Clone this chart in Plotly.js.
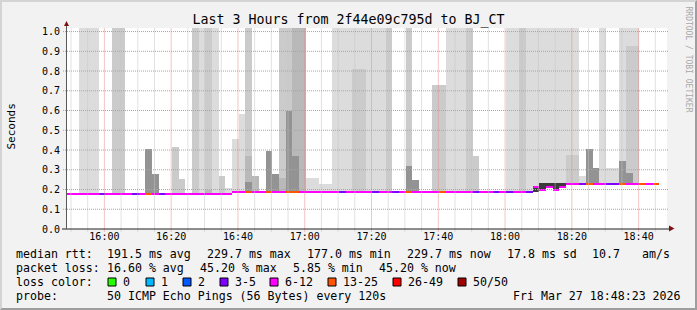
<!DOCTYPE html>
<html><head><meta charset="utf-8">
<script src="https://cdn.plot.ly/plotly-3.0.1.min.js"></script>
<style>
html,body{margin:0;padding:0;background:#f2f2f2;}
#wrap{position:relative;width:697px;height:310px;overflow:hidden;}
#chart{width:697px;height:310px;}
#frame{position:absolute;left:0;top:0;width:697px;height:310px;box-sizing:border-box;border-top:2px solid #d4d4d4;border-left:2px solid #d4d4d4;border-right:2px solid #9e9e9e;border-bottom:2px solid #9e9e9e;pointer-events:none;}
</style></head><body>
<div id="wrap"><div id="chart"></div><div id="frame"></div></div>
<script>
// ---- data (one entry per 2-minute step, first step starts 15:48:15) ----
const FIRST_STEP = '2026-03-27 15:48:15';
const STEP_MIN = 2;
const F = 1.1; // off-scale (above chart top)

const medianRtt = [
 0.177,0.177,0.177,0.177,0.177,0.177,0.177,0.177,0.177,0.177,
 0.177,0.177,0.177,0.177,0.177,0.177,0.177,0.177,0.177,0.177,
 0.177,0.177,0.177,0.177,0.177,0.187,0.187,0.187,0.187,0.187,
 0.187,0.187,0.187,0.187,0.187,0.187,0.187,0.187,0.187,0.187,
 0.187,0.187,0.187,0.187,0.187,0.187,0.187,0.187,0.187,0.187,
 0.187,0.187,0.187,0.187,0.187,0.187,0.187,0.187,0.187,0.187,
 0.187,0.187,0.187,0.187,0.187,0.187,0.187,0.187,0.187,0.187,
 0.215,0.200,0.215,0.200,0.215,0.230,0.230,0.230,0.230,0.230,
 0.230,0.230,0.230,0.230,0.230,0.230,0.230,0.230,0.230
];
const lossPct = [
 16,18,14,20,16,8,18,22,16,14,
 8,16,30,18,10,14,20,16,18,22,
 16,20,18,14,16,18,22,34,16,20,
 28,18,14,38,30,16,18,20,22,16,
 14,8,18,16,20,22,8,18,14,6,
 20,32,16,18,14,16,28,18,16,20,
 22,8,16,18,10,14,8,16,20,10,
 18,22,16,20,18,14,16,8,30,18,
 16,10,8,36,18,16,32,20,45.2
];
// smoke layers: top of each band (seconds)
const smokeOuter = [
 null,null,F,F,F,null,0.183,null,null,0.183,
 null,null,null,null,null,null,null,null,0.183,null,
 F,null,F,null,0.206,0.454,0.581,null,null,0.195,
 null,null,null,null,null,null,0.258,0.258,0.226,0.226,
 F,F,F,F,F,F,F,F,null,0.19,
 0.19,null,null,null,null,null,null,F,F,F,
 null,null,null,null,null,null,F,F,null,F,
 F,F,F,F,F,F,F,0.267,null,null,
 F,0.307,0.307,F,F,F,null,null,null
];
const smokeMid = [
 null,null,null,null,null,null,null,F,F,null,
 null,null,null,null,null,null,0.414,0.252,null,F,
 null,F,null,0.267,null,null,null,F,null,null,
 null,null,F,F,null,null,null,null,null,null,
 null,null,null,0.81,0.81,null,null,null,F,null,
 null,F,null,null,null,0.728,0.728,null,null,null,
 F,0.368,null,null,null,null,null,null,F,null,
 null,null,null,null,null,0.375,0.375,null,null,null,
 null,null,null,null,0.925,0.925,null,null,null
];
const smokeInner = [
 null,null,null,null,null,null,null,null,null,null,
 null,null,null,null,null,null,null,null,null,null,
 null,0.2,null,null,null,null,null,0.372,0.267,null,
 null,null,0.26,null,F,F,null,null,null,null,
 null,null,null,null,null,null,null,null,null,null,
 null,null,null,null,null,null,null,null,null,null,
 null,null,null,null,null,null,null,null,null,null,
 null,null,null,null,null,null,null,null,null,null,
 null,null,null,null,null,null,null,null,null
];
const smokeCore = [
 null,null,null,null,null,null,null,null,null,null,
 null,null,0.404,0.277,null,null,null,null,null,null,
 null,null,null,null,null,null,null,0.24,null,null,
 0.394,0.277,null,0.596,0.368,null,null,null,null,null,
 null,null,null,null,null,null,null,null,null,null,
 null,0.321,0.247,null,null,null,null,null,null,null,
 null,null,null,null,null,null,null,null,null,null,
 null,null,null,null,null,null,null,null,0.404,0.307,
 null,null,null,0.343,0.282,null,null,null,null
];
const denseLo = [
 null,null,null,null,null,null,null,null,null,null,
 null,null,null,null,null,null,null,null,null,null,
 null,null,null,null,null,null,null,null,null,null,
 null,null,null,null,null,null,null,null,null,null,
 null,null,null,null,null,null,null,null,null,null,
 null,null,null,null,null,null,null,null,null,null,
 null,null,null,null,null,null,null,null,null,null,
 0.187,0.205,0.215,0.205,0.215,null,null,null,null,null,
 null,null,null,null,null,null,null,null,null
];
const denseHi = [
 null,null,null,null,null,null,null,null,null,null,
 null,null,null,null,null,null,null,null,null,null,
 null,null,null,null,null,null,null,null,null,null,
 null,null,null,null,null,null,null,null,null,null,
 null,null,null,null,null,null,null,null,null,null,
 null,null,null,null,null,null,null,null,null,null,
 null,null,null,null,null,null,null,null,null,null,
 0.215,0.233,0.233,0.233,0.233,null,null,null,null,null,
 null,null,null,null,null,null,null,null,null
];
const lossLabels = ['0','1','2','3-5','6-12','13-25','26-49','50/50'];
const lossColors = ['#26ff00','#00b8ff','#0059ff','#7e00ff','#ff00ff','#ff5500','#ff0000','#a10000'];
const lossMaxCount = [0.5,1.5,2.5,5.5,12.5,25.5,49.5,999];
const PINGS = 50;
const xTickStart = '2026-03-27 16:00:00';
const xRange = ['2026-03-27 15:48:30','2026-03-27 18:48:30'];

// ---- helpers ----
function fmt(ms){const d=new Date(ms);const p=n=>String(n).padStart(2,'0');
 return d.getUTCFullYear()+'-'+p(d.getUTCMonth()+1)+'-'+p(d.getUTCDate())+' '+p(d.getUTCHours())+':'+p(d.getUTCMinutes())+':'+p(d.getUTCSeconds());}
function parse(s){const m=s.match(/(\d+)-(\d+)-(\d+) (\d+):(\d+):(\d+)/);return Date.UTC(+m[1],+m[2]-1,+m[3],+m[4],+m[5],+m[6]);}
const stepMs = STEP_MIN*60000;
const t0 = parse(FIRST_STEP);
const times = medianRtt.map((_,i)=>fmt(t0 + i*stepMs + stepMs/2));

function layer(tops, bases, color){
  return {type:'bar', x:times, base:bases, y:tops.map((v,i)=>v==null?null:v-bases[i]),
    width:stepMs, marker:{color:color, line:{width:0}}, hoverinfo:'skip', showlegend:false};
}
function lossColor(p){const c=p*PINGS/100;for(let k=0;k<lossMaxCount.length;k++){if(c<lossMaxCount[k])return lossColors[k];}return lossColors[7];}

const traces = [
  layer(smokeOuter, medianRtt, '#dcdcdc'),
  layer(smokeMid, medianRtt, '#cbcbcb'),
  layer(smokeInner, medianRtt, '#b9b9b9'),
  layer(smokeCore, medianRtt, '#939393'),
  layer(denseHi, denseLo.map((v,i)=>v==null?medianRtt[i]:v), '#3a3a3a'),
  {type:'bar', x:times, base:medianRtt.map(v=>v-0.005), y:medianRtt.map(()=>0.010), width:stepMs,
   marker:{color:lossPct.map(lossColor), line:{width:0}}, hoverinfo:'skip', showlegend:false}
];

// ---- layout geometry ----
const W=697,H=310,L=66,R=30,T=28,B=81;
const PW=W-L-R, PH=H-T-B;
const px = x => (x-L)/PW;
const py = y => (T+PH-y)/PH;
const FONT='DejaVu Sans Mono';
const MAJ='#e88a8a', MIN='#c4c4c4';

const shapes=[];
// grid drawn above smoke (as rrdtool does)
for(let m=parse('2026-03-27 15:50:00'); m<=parse('2026-03-27 18:45:00'); m+=300000){
  const major = ((m-parse(xTickStart))/60000)%20===0;
  shapes.push({type:'line',layer:'above',xref:'x',yref:'paper',x0:fmt(m),x1:fmt(m),y0:py(231.5),y1:1,
    line:{color:major?MAJ:MIN,width:1,dash:'1px,1px'}});
}
for(let k=1;k<=10;k++){
  const v=k/10;
  shapes.push({type:'line',layer:'above',xref:'paper',yref:'y',x0:px(63),x1:px(668),y0:v,y1:v,
    line:{color:MAJ,width:1,dash:'1px,1px'}});
}
// axes + arrows
shapes.push({type:'line',layer:'above',xref:'paper',yref:'paper',x0:px(62),x1:px(669),y0:0,y1:0,line:{color:'#202020',width:1}});
shapes.push({type:'line',layer:'above',xref:'paper',yref:'paper',x0:px(66.5),x1:px(66.5),y0:0,y1:py(26),line:{color:'#5a5a5a',width:1}});
shapes.push({type:'path',layer:'above',xref:'paper',yref:'paper',
  path:`M ${px(669)} ${py(225.5)} L ${px(674.5)} ${py(228.5)} L ${px(669)} ${py(231.5)} Z`,fillcolor:'#801010',line:{width:0}});
shapes.push({type:'path',layer:'above',xref:'paper',yref:'paper',
  path:`M ${px(64)} ${py(26)} L ${px(66.5)} ${py(21)} L ${px(69)} ${py(26)} Z`,fillcolor:'#801010',line:{width:0}});

const ann=[];
function txt(s,x,y,opt){ann.push(Object.assign({text:s,xref:'paper',yref:'paper',x:px(x),y:py(y),xanchor:'left',yanchor:'middle',
  showarrow:false,borderpad:0,borderwidth:0,font:{family:FONT,size:11.6,color:'#000'}},opt||{}));}

// legend lines
const yL=[254,268,282,296];
txt('median rtt:',16,yL[0]);
txt('191.5 ms avg',107,yL[0]); txt('229.7 ms max',207,yL[0]); txt('177.0 ms min',307,yL[0]);
txt('229.7 ms now',407,yL[0]); txt('17.8 ms sd',507,yL[0]); txt('10.7',592,yL[0]); txt('am/s',642,yL[0]);
txt('packet loss:',16,yL[1]);
txt('16.60 % avg',107,yL[1]); txt('45.20 % max',200,yL[1]); txt('5.85 % min',293,yL[1]); txt('45.20 % now',379,yL[1]);
txt('loss color:',16,yL[2]);
const boxX=[108,146,183,220,270,328,393,458];
lossLabels.forEach((lab,k)=>{
  shapes.push({type:'rect',layer:'above',xref:'paper',yref:'paper',x0:px(boxX[k]),x1:px(boxX[k]+8),y0:py(286),y1:py(278),
    fillcolor:lossColors[k],line:{color:'#000',width:1}});
  txt(lab,boxX[k]+15,yL[2]);
});
txt('probe:',16,yL[3]);
txt('50 ICMP Echo Pings (56 Bytes) every 120s',107,yL[3]);
txt('Fri Mar 27 18:48:23 2026',513,yL[3]);
// side texts
ann.push({text:'Seconds',xref:'paper',yref:'paper',x:px(10.5),y:py(127),xanchor:'center',yanchor:'middle',textangle:-90,
  showarrow:false,borderpad:0,borderwidth:0,font:{family:FONT,size:11,color:'#000'}});
ann.push({text:'RRDTOOL / TOBI OETIKER',xref:'paper',yref:'paper',x:px(687.5),y:py(59),xanchor:'center',yanchor:'middle',textangle:90,
  showarrow:false,borderpad:0,borderwidth:0,font:{family:FONT,size:8,color:'#a8a8a8'}});

const layout={
  width:W,height:H,margin:{l:L,r:R,t:T,b:B,pad:0},
  paper_bgcolor:'#f2f2f2',plot_bgcolor:'#ffffff',
  barmode:'overlay',bargap:0,showlegend:false,
  title:{text:'Last 3 Hours from 2f44e09c795d to BJ_CT',font:{family:FONT,size:13.3,color:'#000'},
    xref:'container',x:0.5,xanchor:'center',yref:'container',y:1-19.5/H,yanchor:'middle'},
  xaxis:{type:'date',range:xRange,tick0:xTickStart,dtick:1200000,tickformat:'%H:%M',
    showgrid:false,zeroline:false,showline:false,ticks:'',
    tickfont:{family:FONT,size:10,color:'#000'},fixedrange:true},
  yaxis:{range:[0,1.018],dtick:0.1,tick0:0,tickformat:'.1f',showgrid:false,zeroline:false,showline:false,
    ticks:'outside',ticklen:3,tickcolor:'rgba(0,0,0,0)',tickfont:{family:FONT,size:10,color:'#000'},fixedrange:true},
  shapes:shapes,annotations:ann
};
Plotly.newPlot('chart',traces,layout,{staticPlot:true,displayModeBar:false});
</script>
</body></html>
